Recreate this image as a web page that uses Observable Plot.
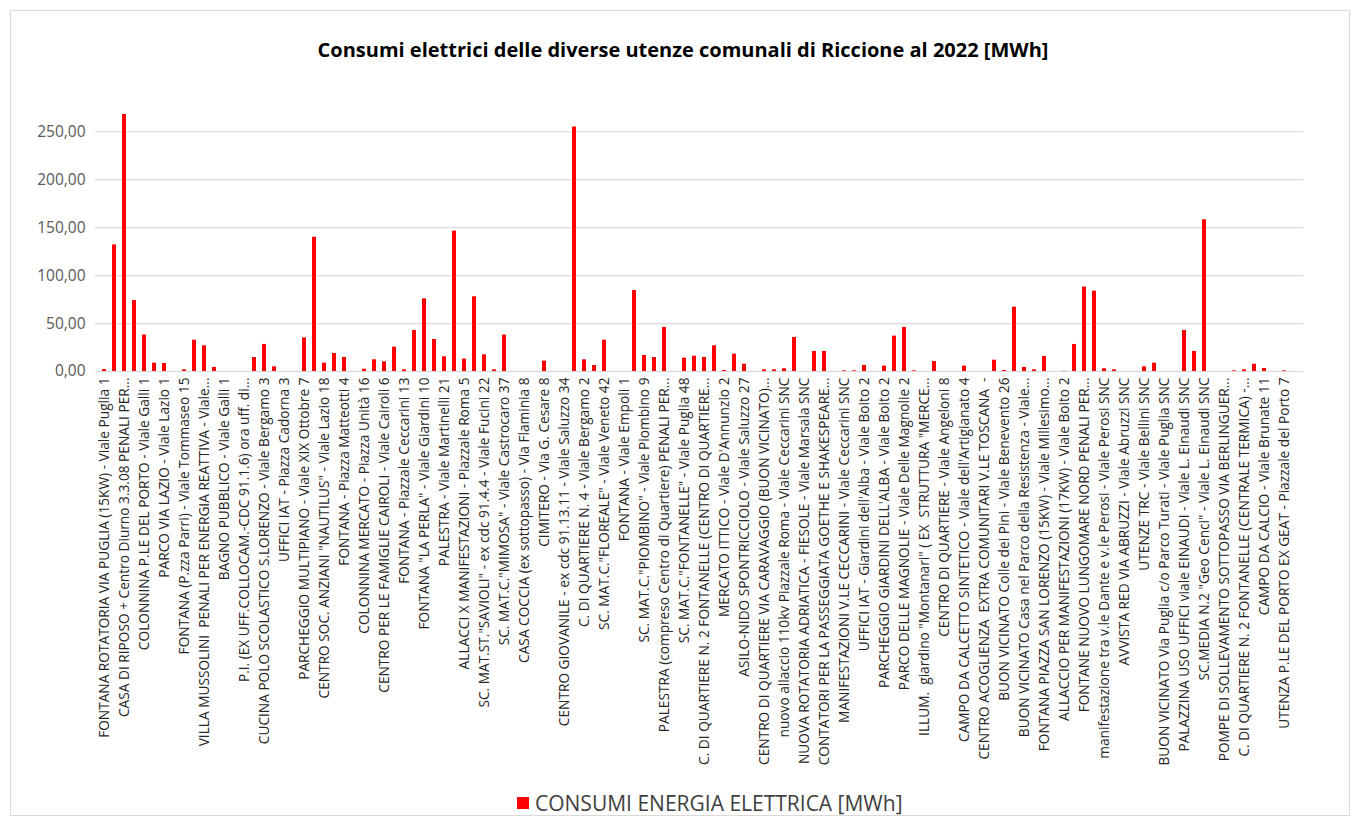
<!DOCTYPE html>
<html><head><meta charset="utf-8">
<script src="https://cdn.jsdelivr.net/npm/d3@7"></script>
<script src="https://cdn.jsdelivr.net/npm/@observablehq/plot@0.6"></script>
<style>
body{margin:0;background:#fff;font-family:"Open Sans","Liberation Sans",Arial,sans-serif;}
#wrap{position:relative;width:1360px;height:823px;overflow:hidden;}
#frame{position:absolute;left:10px;top:10px;width:1338px;height:804px;border:1px solid #d9d9d9;}
#title{position:absolute;top:36px;left:0;width:1366px;text-align:center;font-weight:bold;font-size:20px;color:#000;}
#chart{position:absolute;top:90px;left:0;}
#legend{position:absolute;top:788px;left:517px;font-size:21px;line-height:30px;color:#404040;display:flex;align-items:center;white-space:nowrap;}
#legend span.sw{display:inline-block;width:12px;height:12px;background:#ff0000;margin-right:6px;}
</style></head>
<body>
<div id="wrap">
<div id="frame"></div>
<div id="title">Consumi elettrici delle diverse utenze comunali di Riccione al 2022 [MWh]</div>
<div id="chart"></div>
<div id="legend"><span class="sw"></span><span>CONSUMI ENERGIA ELETTRICA [MWh]</span></div>
</div>
<script>
// Tick labels (shown on every other bar)
const categories = [
 'FONTANA ROTATORIA VIA PUGLIA (15KW) - Viale Puglia 1',
 'CASA DI RIPOSO + Centro Diurno 3.3.08 PENALI PER...',
 'COLONNINA P.LE DEL PORTO - Viale Galli 1',
 'PARCO VIA LAZIO - Viale Lazio 1',
 'FONTANA (P.zza Parri) - Viale Tommaseo 15',
 'VILLA MUSSOLINI  PENALI PER ENERGIA REATTIVA - Viale...',
 'BAGNO PUBBLICO - Viale Galli 1',
 'P.I. (EX UFF.COLLOCAM.-CDC 91.1.6) ora uff. di...',
 'CUCINA POLO SCOLASTICO S.LORENZO - Viale Bergamo 3',
 'UFFICI IAT - Piazza Cadorna 3',
 'PARCHEGGIO MULTIPIANO - Viale XIX Ottobre 7',
 'CENTRO SOC. ANZIANI "NAUTILUS" - Viale Lazio 18',
 'FONTANA - Piazza Matteotti 4',
 'COLONNINA MERCATO - Piazza Unità 16',
 'CENTRO PER LE FAMIGLIE CAIROLI - Viale Cairoli 6',
 'FONTANA - Piazzale Ceccarini 13',
 'FONTANA "LA PERLA" - Viale Giardini 10',
 'PALESTRA - Viale Martinelli 21',
 'ALLACCI X MANIFESTAZIONI - Piazzale Roma 5',
 'SC. MAT.ST."SAVIOLI" - ex cdc 91.4.4 - Viale Fucini 22',
 'SC. MAT.C."MIMOSA" - Viale Castrocaro 37',
 'CASA COCCIA (ex sottopasso) - Via Flaminia 8',
 'CIMITERO - Via G. Cesare 8',
 'CENTRO GIOVANILE - ex cdc 91.13.11 - Viale Saluzzo 34',
 'C. DI QUARTIERE N. 4 - Viale Bergamo 2',
 'SC. MAT.C."FLOREALE" - Viale Veneto 42',
 'FONTANA - Viale Empoli 1',
 'SC. MAT.C."PIOMBINO" - Viale Piombino 9',
 'PALESTRA (compreso Centro di Quartiere) PENALI PER...',
 'SC. MAT.C."FONTANELLE" - Viale Puglia 48',
 'C. DI QUARTIERE N. 2 FONTANELLE (CENTRO DI QUARTIERE...',
 "MERCATO ITTICO - Viale D'Annunzio 2",
 'ASILO-NIDO SPONTRICCIOLO - Viale Saluzzo 27',
 'CENTRO DI QUARTIERE VIA CARAVAGGIO (BUON VICINATO)...',
 'nuovo allaccio 110kv Piazzale Roma - Viale Ceccarini SNC',
 'NUOVA ROTATORIA ADRIATICA - FIESOLE - Viale Marsala SNC',
 'CONTATORI PER LA PASSEGGIATA GOETHE E SHAKESPEARE...',
 'MANIFESTAZIONI V.LE CECCARINI - Viale Ceccarini SNC',
 "UFFICI IAT - Giardini dell'Alba - Viale Boito 2",
 "PARCHEGGIO GIARDINI DELL'ALBA - Viale Boito 2",
 'PARCO DELLE MAGNOLIE - Viale Delle Magnolie 2',
 'ILLUM.  giardino "Montanari" ( EX  STRUTTURA "MERCE...',
 'CENTRO DI QUARTIERE - Viale Angeloni 8',
 "CAMPO DA CALCETTO SINTETICO - Viale dell'Artigianato 4",
 'CENTRO ACOGLIENZA  EXTRA COMUNITARI V.LE TOSCANA  -',
 'BUON VICINATO Colle dei Pini - Viale Benevento 26',
 'BUON VICINATO Casa nel Parco della Resistenza - Viale...',
 'FONTANA PIAZZA SAN LORENZO (15KW) - Viale Millesimo...',
 'ALLACCIO PER MANIFESTAZIONI (17KW) - Viale Boito 2',
 'FONTANE NUOVO LUNGOMARE NORD PENALI PER...',
 'manifestazione tra v.le Dante e v.le Perosi - Viale Perosi SNC',
 'AVVISTA RED VIA ABRUZZI - Viale Abruzzi SNC',
 'UTENZE TRC - Viale Bellini SNC',
 'BUON VICINATO Via Puglia c/o Parco Turati - Viale Puglia SNC',
 'PALAZZINA USO UFFICI viale EINAUDI - Viale L. Einaudi SNC',
 'SC.MEDIA N.2 "Geo Cenci" - Viale L. Einaudi SNC',
 'POMPE DI SOLLEVAMENTO SOTTOPASSO VIA BERLINGUER...',
 'C. DI QUARTIERE N. 2 FONTANELLE (CENTRALE TERMICA) -...',
 'CAMPO DA CALCIO - Viale Brunate 11',
 'UTENZA P.LE DEL PORTO EX GEAT - Piazzale del Porto 7'
];

// Consumption per utility, MWh (one value per bar, in order)
const values = [
 2, 132, 268, 74, 38, 8.7, 8.3, 0, 1.7, 32.7,
 26.8, 4.2, 0, 0, 0, 14.6, 28.2, 4.9, 0, 0,
 35, 140, 8.7, 18.8, 14.6, 0, 2.4, 12.2, 10.1, 25.4,
 1.7, 42.8, 75.8, 33.4, 15.3, 146.4, 12.9, 77.9, 17.4, 1.7,
 37.9, 0, 0, 0, 10.8, 0, 0, 255, 12.2, 6.3,
 32.7, 0, 0, 84.5, 16.7, 14.6, 45.9, 0, 13.9, 16,
 14.6, 26.8, 1, 18.1, 7.6, 0, 1.7, 1.7, 2.8, 35.5,
 0, 20.9, 20.9, 0, 0.7, 0.7, 6.3, 0, 5.6, 36.9,
 45.9, 0.7, 0, 10.4, 0, 0, 5.6, 0, 0, 11.8,
 1, 67.1, 4.2, 1.7, 15.6, 0, 0.3, 28.2, 88, 83.8,
 2.8, 1.7, 0, 0, 4.9, 8.7, 0, 0, 42.8, 20.9,
 158.2, 0, 0, 0.7, 1.7, 7.6, 3.1, 0, 0.7, 0
];

const yTicks = [0, 50, 100, 150, 200, 250];
const fmt = d => d.toFixed(2).replace(".", ",");

const chart = Plot.plot({
  width: 1360,
  height: 700,
  marginTop: 12.5,
  marginBottom: 419,
  marginLeft: 95,
  marginRight: 56.5,
  style: {fontFamily: '"Open Sans", "Liberation Sans", Arial, sans-serif', fontSize: "13.7px", color: "#404040", background: "transparent", overflow: "visible"},
  x: {type: "band", domain: d3.range(values.length), padding: 0.56},
  y: {domain: [0, 280]},
  marks: [
    Plot.gridY(yTicks.slice(1), {stroke: "#d9d9d9", strokeOpacity: 1, strokeWidth: 1.2}),
    Plot.ruleY([0], {stroke: "#d9d9d9", strokeWidth: 1.2}),
    Plot.barY(values, {x: (d, i) => i, y: d => d, fill: "#ff0000"}),
    Plot.axisY({ticks: yTicks, tickSize: 0, tickPadding: 10, tickFormat: fmt, label: null, fontSize: 15.5, fill: "#595959"}),
    Plot.axisX({ticks: d3.range(0, values.length, 2), tickFormat: i => categories[i / 2], tickRotate: -90, tickSize: 0, tickPadding: 6, label: null, fill: "#262626"})
  ]
});
document.getElementById("chart").appendChild(chart);
</script>
</body></html>
